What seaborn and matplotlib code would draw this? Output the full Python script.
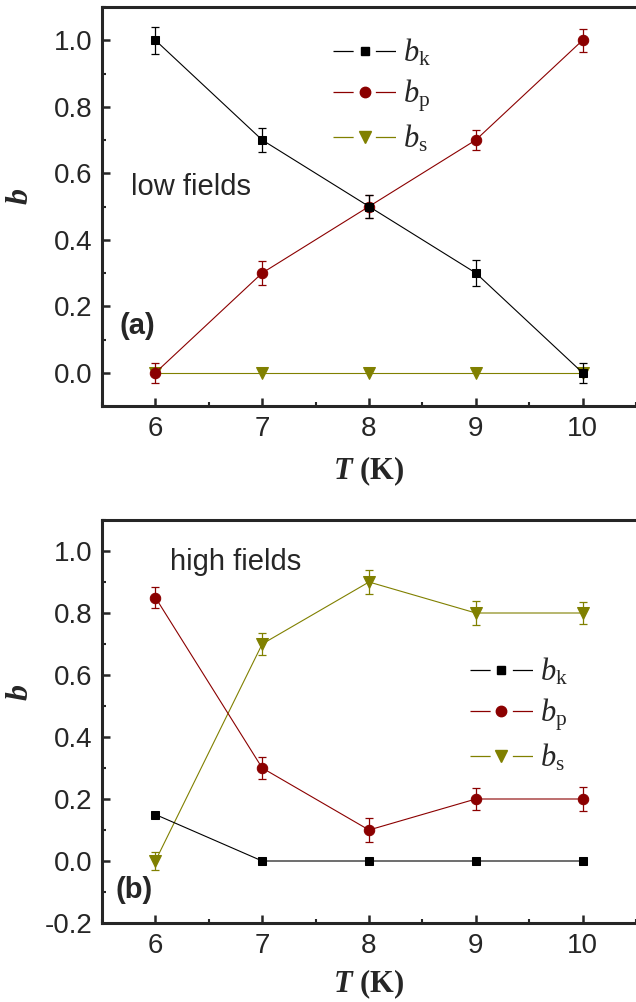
import numpy as np
import pandas as pd
import matplotlib
matplotlib.use("Agg")
import matplotlib.pyplot as plt
import seaborn as sns
from matplotlib.ticker import MultipleLocator
from matplotlib.lines import Line2D

# data
T = [6, 7, 8, 9, 10]

# (a) low fields
low_bk = [1.0, 0.7, 0.5, 0.3, 0.0]
low_bk_err = [0.04, 0.035, 0.035, 0.04, 0.03]
low_bp = [0.0, 0.3, 0.5, 0.7, 1.0]
low_bp_err = [0.03, 0.035, 0.035, 0.03, 0.035]
low_bs = [0.0, 0.0, 0.0, 0.0, 0.0]

# (b) high fields
high_bk = [0.15, 0.0, 0.0, 0.0, 0.0]
high_bp = [0.85, 0.3, 0.1, 0.2, 0.2]
high_bp_err = [0.035, 0.035, 0.04, 0.035, 0.04]
high_bs = [0.0, 0.7, 0.9, 0.8, 0.8]
high_bs_err = [0.03, 0.035, 0.04, 0.04, 0.035]

c_k = "black"
c_p = "#8b0000"
c_s = "#808000"

sns.set_style("ticks")
plt.rcParams['font.family'] = ['Liberation Sans', 'DejaVu Sans']
plt.rcParams['mathtext.fontset'] = 'custom'
plt.rcParams['mathtext.rm'] = 'Liberation Serif'
plt.rcParams['mathtext.it'] = 'Liberation Serif:italic'
plt.rcParams['mathtext.bf'] = 'Liberation Serif:bold'
plt.rcParams['mathtext.bfit'] = 'Liberation Serif:italic:bold'
plt.rcParams['lines.scale_dashes'] = False

fig = plt.figure(figsize=(6.36, 10.02), dpi=100)
ax1 = fig.add_axes([102/636, 1-406/1002, 534/636, 399/1002])
ax2 = fig.add_axes([102/636, 1-923/1002, 534/636, 403/1002])

sizes = {'s': 6, 'o': 7.5, 'v': 8.5}


def draw_series(ax, y, err, color, marker):
    sns.lineplot(x=T, y=y, ax=ax, color=color, marker=marker, markersize=sizes[marker],
                 markeredgecolor=color, linewidth=0.8, legend=False)
    if err is not None:
        ax.errorbar(T, y, yerr=err, fmt='none', ecolor=color, elinewidth=0.9,
                    capsize=3, capthick=0.9)


def style_axes(ax, ymin, ymax, xpad):
    ax.set_xlim(5.5, 10.5)
    ax.set_ylim(ymin, ymax)
    ax.xaxis.set_major_locator(MultipleLocator(1))
    ax.xaxis.set_minor_locator(MultipleLocator(0.5))
    ax.yaxis.set_major_locator(MultipleLocator(0.2))
    ax.yaxis.set_minor_locator(MultipleLocator(0.1))
    ax.yaxis.set_major_formatter(matplotlib.ticker.FormatStrFormatter('%.1f'))
    ax.tick_params(which='major', direction='in', length=5.5, width=1.8,
                   labelsize=20, pad=7)
    ax.tick_params(which='minor', direction='in', length=3, width=1.5)
    for s in ['left', 'bottom', 'top']:
        ax.spines[s].set_linewidth(2.2)
    ax.spines['right'].set_visible(False)
    ax.set_xlabel(r'$\mathbfit{T}$ (K)', fontsize=22, fontfamily='Liberation Serif',
                  fontweight='bold', labelpad=xpad)
    ax.set_ylabel(r'$\mathbfit{b}$', fontsize=23)


def add_legend(ax, anchor):
    handles = []
    for color, marker in [(c_k, 's'), (c_p, 'o'), (c_s, 'v')]:
        seg = Line2D([], [], color=color, linewidth=0.9, dashes=(14.5, 16))
        mk = Line2D([], [], color=color, marker=marker, markersize=sizes[marker],
                    linestyle='none')
        handles.append((seg, mk))
    labels = [r'$b_{\mathrm{k}}$', r'$b_{\mathrm{p}}$', r'$b_{\mathrm{s}}$']
    ax.legend(handles, labels, loc='upper left', bbox_to_anchor=anchor,
              frameon=False, fontsize=22, borderpad=0, borderaxespad=0,
              handlelength=2.05, handletextpad=0.25, labelspacing=0.3,
              numpoints=1)


# panel (a)
draw_series(ax1, low_bs, None, c_s, 'v')
draw_series(ax1, low_bp, low_bp_err, c_p, 'o')
draw_series(ax1, low_bk, low_bk_err, c_k, 's')
style_axes(ax1, -0.1, 1.1, 9)
ax1.yaxis.set_label_coords(-0.125, 0.524)
ax1.text(5.77, 0.56, 'low fields', fontsize=21, va='center')
ax1.text(5.66, 0.14, '(a)', fontsize=21, fontweight='bold', va='center')
add_legend(ax1, (0.433, 0.925))

# panel (b)
draw_series(ax2, high_bs, high_bs_err, c_s, 'v')
draw_series(ax2, high_bp, high_bp_err, c_p, 'o')
draw_series(ax2, high_bk, None, c_k, 's')
style_axes(ax2, -0.2, 1.1, 6)
ax2.yaxis.set_label_coords(-0.125, 0.571)
ax2.text(6.14, 0.964, 'high fields', fontsize=21, va='center')
ax2.text(5.63, -0.094, '(b)', fontsize=21, fontweight='bold', va='center')
add_legend(ax2, (0.689, 0.663))

fig.savefig("out.png", dpi=100)
